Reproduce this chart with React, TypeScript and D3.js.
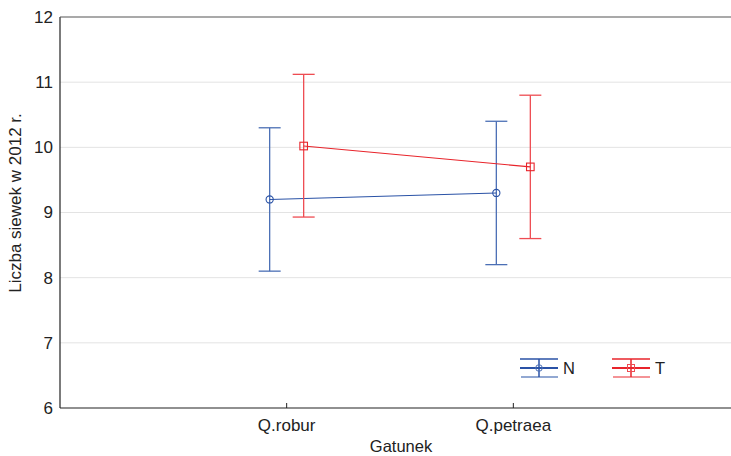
import React from "react"
import * as d3 from "d3"

const width = 731
const height = 456

const categories = ["Q.robur", "Q.petraea"]
const seriesNames = ["N", "T"]
const nMeans = [9.2, 9.3]
const nLow = [8.1, 8.2]
const nHigh = [10.3, 10.4]
const tMeans = [10.02, 9.7]
const tLow = [8.93, 8.6]
const tHigh = [11.12, 10.8]
const yTicks = [6, 7, 8, 9, 10, 11, 12]

const colors = { N: "#2a52a6", T: "#e8242b" }
const barColors = { N: "#4b6fb5", T: "#ee4c52" }

const margin = { top: 17, right: 0, bottom: 48, left: 60 }
const font = "'Liberation Sans', Arial, sans-serif"

const App = () => {
  const plotBottom = height - margin.bottom
  const y = d3.scaleLinear().domain([6, 12]).range([plotBottom, margin.top])
  const x = d3.scalePoint().domain(categories).range([margin.left, 740]).padding(1)
  const offset = { N: -17, T: 17 }
  const capW = 11

  const series = [
    { name: "N", means: nMeans, low: nLow, high: nHigh },
    { name: "T", means: tMeans, low: tLow, high: tHigh },
  ]

  const line = d3
    .line<number>()
    .x((_, i) => (x(categories[i]) as number))
    .y(d => y(d))

  return (
    <svg width={width} height={height} style={{ position: "absolute", left: 0, top: 0, fontFamily: font }}>
      <rect width={width} height={height} fill="#fff" />
      {yTicks.slice(1, -1).map(t => (
        <line key={t} x1={margin.left} x2={width} y1={y(t)} y2={y(t)} stroke="#e3e3e3" strokeWidth={1} />
      ))}
      {yTicks.map(t => (
        <text key={t} x={margin.left - 7} y={y(t)} dy="0.35em" textAnchor="end" fontSize={17} fill="#222">
          {t}
        </text>
      ))}
      <line x1={margin.left} x2={margin.left} y1={margin.top} y2={plotBottom} stroke="#222" strokeWidth={1.2} />
      <line x1={margin.left} x2={width} y1={margin.top} y2={margin.top} stroke="#555" strokeWidth={1.2} />
      <line x1={margin.left} x2={width} y1={plotBottom} y2={plotBottom} stroke="#222" strokeWidth={1.2} />
      {categories.map(c => (
        <line key={c} x1={x(c)} x2={x(c)} y1={plotBottom} y2={plotBottom - 5} stroke="#222" strokeWidth={1} />
      ))}

      {categories.map(c => (
        <text key={c} x={x(c)} y={plotBottom + 23} textAnchor="middle" fontSize={17} fill="#222">
          {c}
        </text>
      ))}
      <text x={401} y={452} textAnchor="middle" fontSize={16.5} fill="#222">Gatunek</text>
      <text
        transform={`translate(21, 203) rotate(-90)`}
        textAnchor="middle"
        fontSize={17}
        fill="#222"
      >
        Liczba siewek w 2012 r.
      </text>

      {series.map(s => {
        const off = offset[s.name as "N" | "T"]
        const col = colors[s.name as "N" | "T"]
        const bcol = barColors[s.name as "N" | "T"]
        return (
          <g key={s.name} transform={`translate(${off},0)`}>
            {categories.map((c, i) => {
              const cx = x(c) as number
              return (
                <g key={c}>
                  <line x1={cx} x2={cx} y1={y(s.low[i])} y2={y(s.high[i])} stroke={bcol} strokeWidth={1.3} />
                  <line x1={cx - capW} x2={cx + capW} y1={y(s.low[i])} y2={y(s.low[i])} stroke={bcol} strokeWidth={1.3} />
                  <line x1={cx - capW} x2={cx + capW} y1={y(s.high[i])} y2={y(s.high[i])} stroke={bcol} strokeWidth={1.3} />
                </g>
              )
            })}
            <path d={line(s.means) || ""} fill="none" stroke={col} strokeWidth={1.1} />
            {categories.map((c, i) => {
              const cx = x(c) as number
              return s.name === "N" ? (
                <circle key={c} cx={cx} cy={y(s.means[i])} r={3.6} fill="none" stroke={col} strokeWidth={1.1} />
              ) : (
                <rect key={c} x={cx - 3.8} y={y(s.means[i]) - 3.8} width={7.6} height={7.6} fill="none" stroke={col} strokeWidth={1.1} />
              )
            })}
          </g>
        )
      })}

      {seriesNames.map((name, i) => {
        const lx = 520 + i * 92
        const cx = lx + 19
        const cy = 368
        const col = colors[name as "N" | "T"]
        const bcol = barColors[name as "N" | "T"]
        return (
          <g key={name}>
            <line x1={lx} x2={lx + 38} y1={cy - 9} y2={cy - 9} stroke={col} strokeWidth={1.3} />
            <line x1={lx + 1} x2={lx + 38} y1={cy + 9} y2={cy + 9} stroke={bcol} strokeWidth={1.3} opacity={0.8} />
            <line x1={lx} x2={lx + 38} y1={cy} y2={cy} stroke={col} strokeWidth={2} />
            <line x1={cx} x2={cx} y1={cy - 9} y2={cy + 9} stroke={col} strokeWidth={1.5} />
            {name === "N" ? (
              <circle cx={cx} cy={cy} r={3.3} fill="none" stroke={bcol} strokeWidth={1} />
            ) : (
              <rect x={cx - 3.5} y={cy - 3.5} width={7} height={7} fill="none" stroke={bcol} strokeWidth={1} />
            )}
            <text x={lx + 43} y={cy} dy="0.36em" fontSize={16.5} fill="#222">{name}</text>
          </g>
        )
      })}
    </svg>
  )
}

export default App
